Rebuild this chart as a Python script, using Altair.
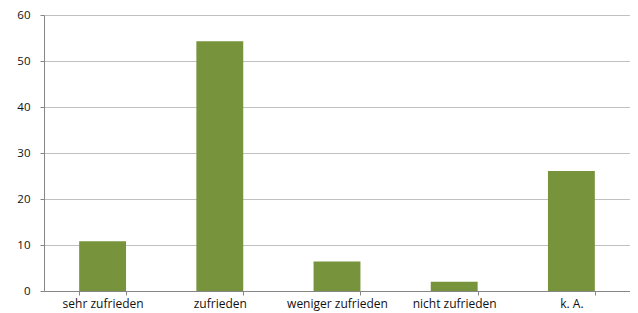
import altair as alt
import pandas as pd

categories = ["sehr zufrieden", "zufrieden", "weniger zufrieden", "nicht zufrieden", "k. A."]
values = [10.8, 54.3, 6.4, 2.0, 26.1]

df = pd.DataFrame({"cat": categories, "val": values})

FONT = "Open Sans"

chart = alt.Chart(df).mark_bar(color="#77933C").encode(
    x=alt.X("cat:N", sort=categories, title=None,
            scale=alt.Scale(paddingInner=0.6, paddingOuter=0.3),
            axis=alt.Axis(labelAngle=0, tickBand="extent", ticks=True, tickSize=4,
                          tickColor="#868686", domainColor="#868686",
                          labelFont=FONT, labelFontSize=12, labelColor="#111111",
                          labelPadding=3, grid=False)),
    y=alt.Y("val:Q", title=None,
            scale=alt.Scale(domain=[0, 60], nice=False),
            axis=alt.Axis(values=[0, 10, 20, 30, 40, 50, 60], tickSize=4,
                          tickColor="#868686", domainColor="#868686",
                          gridColor="#c0c0c0", labelFont=FONT, labelFontSize=11.5,
                          labelColor="#111111", labelPadding=10)),
).properties(
    width=586, height=276,
    autosize=alt.AutoSizeParams(type="none"),
    padding={"left": 36, "top": 7, "right": 0, "bottom": 22},
).configure_view(stroke=None).configure(background="white")

chart.save("out.html", embed_options={"renderer": "svg", "actions": False})
